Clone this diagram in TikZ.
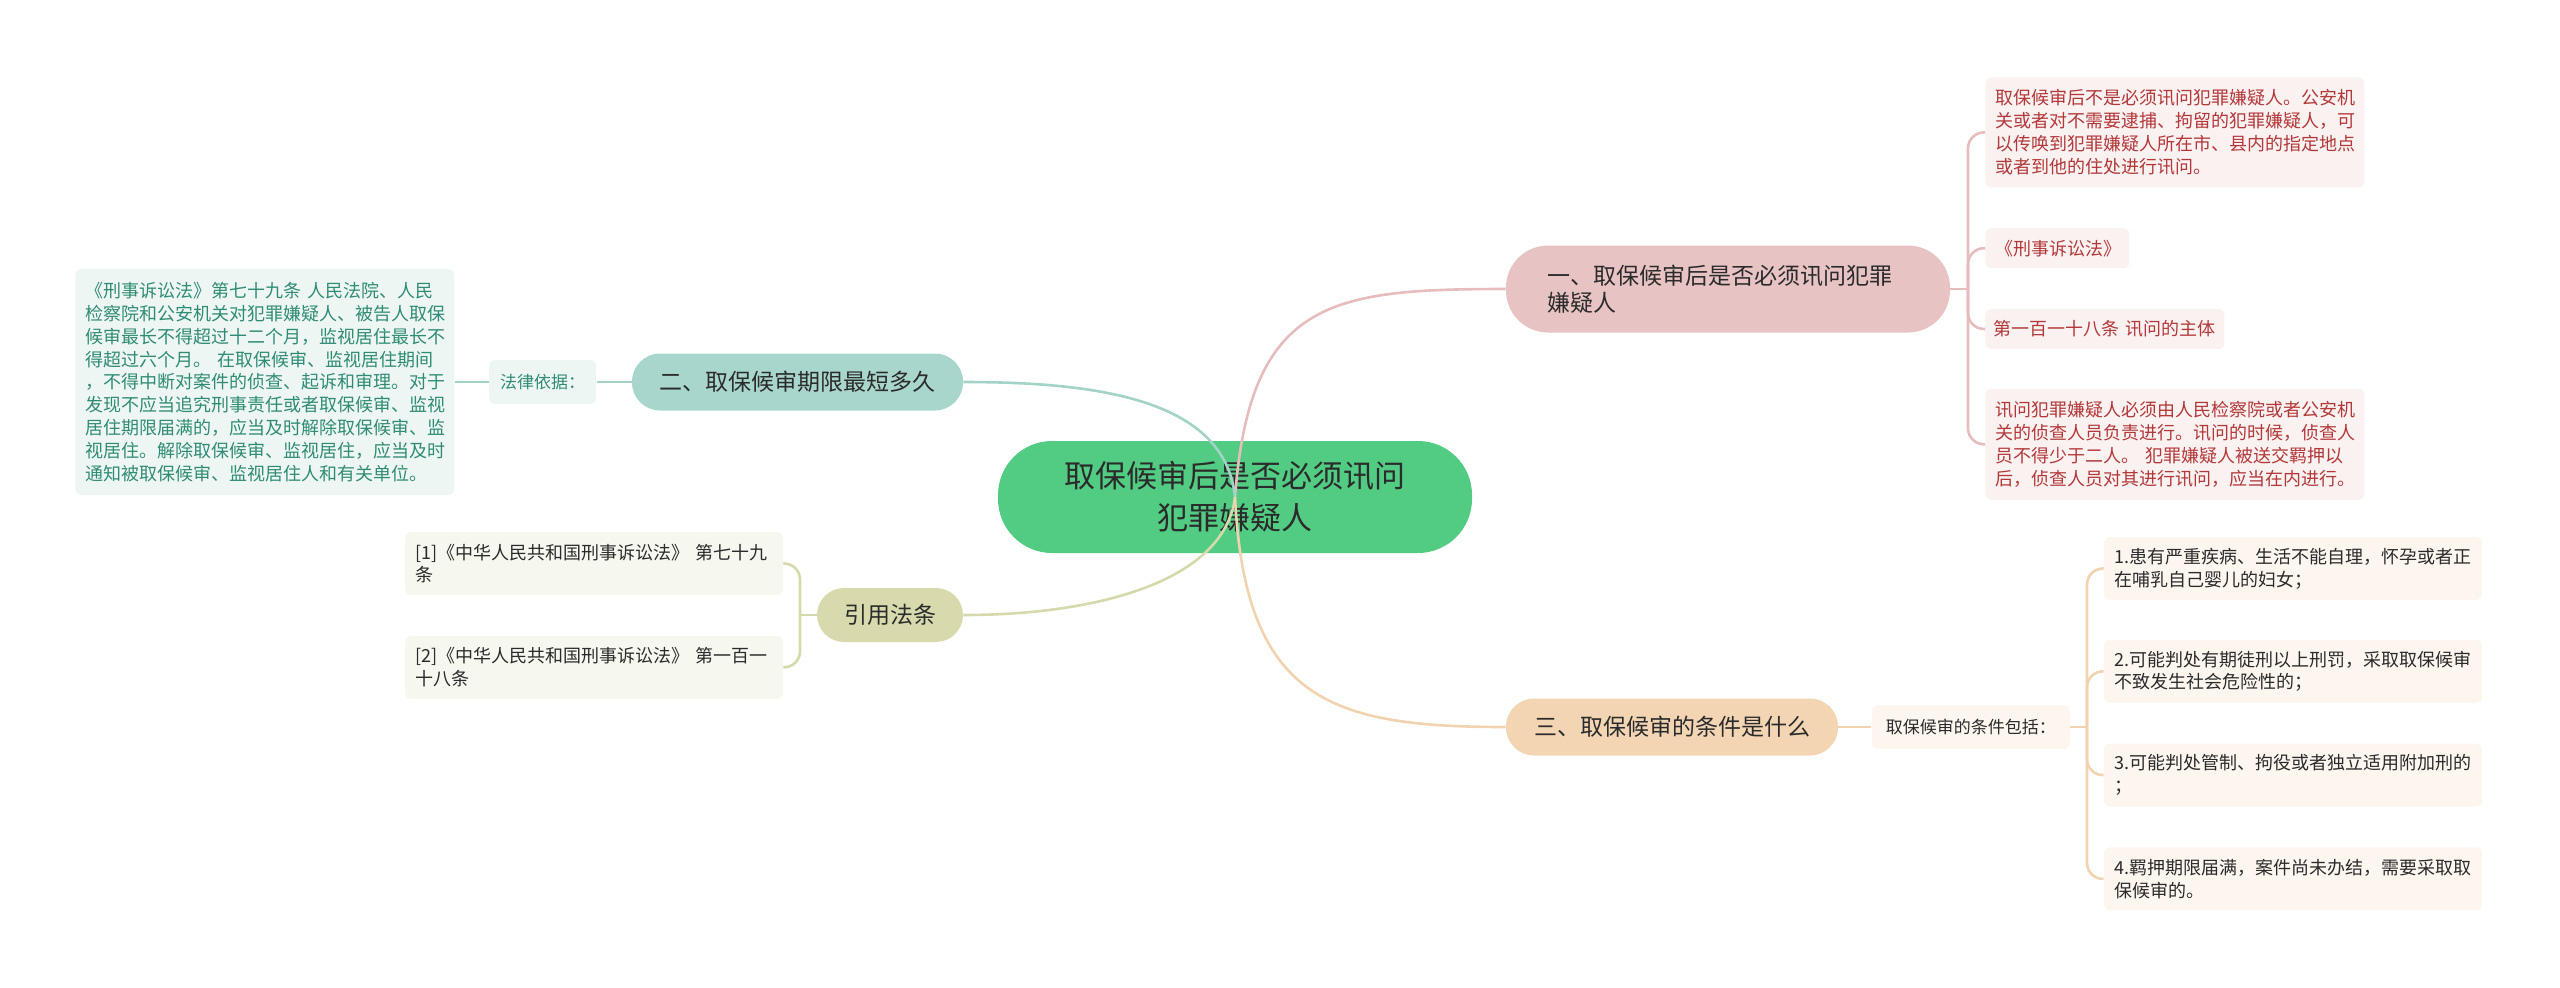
\documentclass[tikz,border=0pt]{standalone}
\usepackage{fontspec}
\setmainfont{Noto Sans CJK SC}
\usetikzlibrary{positioning}
\definecolor{rootgreen}{HTML}{52CC83}
\definecolor{inkdark}{HTML}{2B2B2B}
\definecolor{pinkbr}{HTML}{E8C3C3}
\definecolor{pinkln}{HTML}{E6BCBC}
\definecolor{pinkbg}{HTML}{FAF1F1}
\definecolor{pinktx}{HTML}{B3383A}
\definecolor{tealbr}{HTML}{A9D6CC}
\definecolor{tealln}{HTML}{A3D2C6}
\definecolor{tealbg}{HTML}{EEF6F4}
\definecolor{tealtx}{HTML}{2F8C74}
\definecolor{olivebr}{HTML}{D8DAAE}
\definecolor{oliveln}{HTML}{D6D9AC}
\definecolor{olivebg}{HTML}{F6F7EF}
\definecolor{peachbr}{HTML}{F3D5B4}
\definecolor{peachln}{HTML}{F1D3B0}
\definecolor{peachbg}{HTML}{FDF6EF}
\begin{document}
\begin{tikzpicture}[
  x=0.5pt,y=-0.5pt,
  text=inkdark,
  root/.style={fill=rootgreen,rounded corners=27pt,minimum width=237pt,minimum height=56pt,align=center,inner sep=0pt,font=\fontsize{15.5}{21}\selectfont},
  branch/.style={rounded corners=14pt,minimum height=28.5pt,inner sep=0pt,font=\fontsize{11.5}{13.75}\selectfont},
  leaf/.style={rounded corners=3pt,align=left,inner xsep=5pt,inner ysep=4pt,font=\fontsize{9}{11.4}\selectfont},
  sublabel/.style={rounded corners=3pt,inner sep=0pt,minimum height=22pt,font=\fontsize{8.5}{10}\selectfont},
  pleaf/.style={leaf,fill=pinkbg,text=pinktx},
  tleaf/.style={leaf,fill=tealbg,text=tealtx},
  oleaf/.style={leaf,fill=olivebg},
  eleaf/.style={leaf,fill=peachbg},
  link/.style={line width=1.3pt},
  bracket/.style={line width=1.3pt,rounded corners=8pt}]
\useasboundingbox (0,0) rectangle (2560,987);
\node[root] (root) at (1235,497) {取保候审后是否必须讯问\\犯罪嫌疑人};
\node[branch,fill=pinkbr,rounded corners=21pt,minimum height=43.5pt,text width=181pt,inner xsep=20.5pt,align=left] (b1) at (1728,289) {一、取保候审后是否必须讯问犯罪\\嫌疑人};
\node[branch,fill=tealbr,minimum width=165.5pt] (b2) at (797.5,382) {二、取保候审期限最短多久};
\node[branch,fill=olivebr,minimum width=73pt,minimum height=27pt,rounded corners=13.5pt] (cite) at (890,615) {引用法条};
\node[branch,fill=peachbr,minimum width=166pt] (b3) at (1672,727) {三、取保候审的条件是什么};

\node[pleaf,text width=179.5pt,minimum height=55pt,anchor=north west] (r1) at (1985,77) {取保候审后不是必须讯问犯罪嫌疑人。公安机\\关或者对不需要逮捕、拘留的犯罪嫌疑人，可\\以传唤到犯罪嫌疑人所在市、县内的指定地点\\或者到他的住处进行讯问。};
\node[pleaf,text width=62pt,minimum height=20pt,below=20pt of r1.south west,anchor=north west] (r2) {《刑事诉讼法》};
\node[pleaf,text width=111.5pt,inner xsep=4pt,minimum height=20pt,below=20pt of r2.south west,anchor=north west] (r3) {第一百一十八条~讯问的主体};
\node[pleaf,text width=179.5pt,minimum height=55.5pt,below=19.5pt of r3.south west,anchor=north west] (r4) {讯问犯罪嫌疑人必须由人民检察院或者公安机\\关的侦查人员负责进行。讯问的时候，侦查人\\员不得少于二人。 犯罪嫌疑人被送交羁押以\\后，侦查人员对其进行讯问，应当在内进行。};

\node[sublabel,fill=tealbg,text=tealtx,minimum width=53.5pt,left=17.5pt of b2] (basis) {法律依据：};
\node[tleaf,text width=179.5pt,minimum height=113pt,left=17pt of basis] (law) {《刑事诉讼法》第七十九条 人民法院、人民\\检察院和公安机关对犯罪嫌疑人、被告人取保\\候审最长不得超过十二个月，监视居住最长不\\得超过六个月。 在取保候审、监视居住期间\\，不得中断对案件的侦查、起诉和审理。对于\\发现不应当追究刑事责任或者取保候审、监视\\居住期限届满的，应当及时解除取保候审、监\\视居住。解除取保候审、监视居住，应当及时\\通知被取保候审、监视居住人和有关单位。};

\node[oleaf,text width=179pt,minimum height=31.5pt] (cite1) at (594,563.5) {[1]《中华人民共和国刑事诉讼法》 第七十九\\条};
\node[oleaf,text width=179pt,minimum height=31.5pt,below=20pt of cite1] (cite2) {[2]《中华人民共和国刑事诉讼法》 第一百一\\十八条};

\node[sublabel,fill=peachbg,minimum width=99pt,right=16.5pt of b3] (incl) {取保候审的条件包括：};
\node[eleaf,text width=179pt,minimum height=31.5pt] (c1) at (2293,568.5) {1.患有严重疾病、生活不能自理，怀孕或者正\\在哺乳自己婴儿的妇女；};
\node[eleaf,text width=179pt,minimum height=31.5pt,below=19.5pt of c1] (c2) {2.可能判处有期徒刑以上刑罚，采取取保候审\\不致发生社会危险性的；};
\node[eleaf,text width=179pt,minimum height=31.5pt,below=20pt of c2] (c3) {3.可能判处管制、拘役或者独立适用附加刑的\\；};
\node[eleaf,text width=179pt,minimum height=31.5pt,below=20pt of c3] (c4) {4.羁押期限届满，案件尚未办结，需要采取取\\保候审的。};

\coordinate (j1) at (1968,289);
\coordinate (j2) at (800,615);
\coordinate (j3) at (2087,727);

\draw[link,pinkln] (b1.east) -- (j1);
\foreach \n in {r1,r2,r3,r4}
  \draw[bracket,pinkln] (j1) |- (\n.west);
\draw[link,tealln] (b2.west) -- (basis.east);
\draw[link,tealln] (basis.west) -- (law.east);
\draw[link,oliveln] (cite.west) -- (j2);
\foreach \n in {cite1,cite2}
  \draw[bracket,oliveln] (j2) |- (\n.east);
\draw[link,peachln] (b3.east) -- (incl.west);
\draw[link,peachln] (incl.east) -- (j3);
\foreach \n in {c1,c2,c3,c4}
  \draw[bracket,peachln] (j3) |- (\n.west);

\draw[link,pinkln] (root.center) .. controls (1250,300) and (1330,289) .. (b1.west);
\draw[link,tealln] (root.center) .. controls (1225,400) and (1100,382) .. (b2.east);
\draw[link,oliveln] (root.center) .. controls (1225,580) and (1100,615) .. (cite.east);
\draw[link,peachln] (root.center) .. controls (1245,700) and (1330,727) .. (b3.west);
\end{tikzpicture}
\end{document}
